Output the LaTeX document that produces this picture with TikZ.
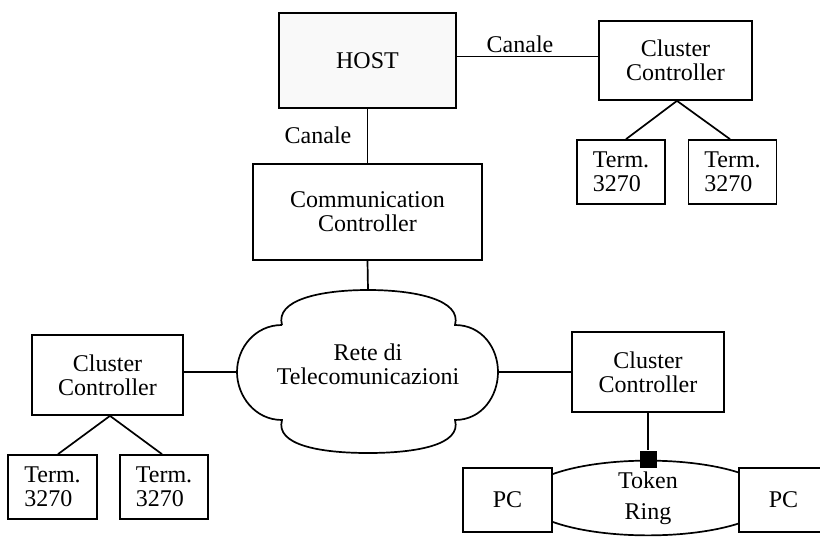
\documentclass[tikz,border=0pt]{standalone}
\usepackage{fontspec}
\setmainfont{Liberation Serif}
\usetikzlibrary{shapes.geometric,positioning,calc}

\begin{document}
\begin{tikzpicture}[x=1pt,y=-1pt,line width=1.7pt,
    font=\fontsize{24}{24}\selectfont,
    box/.style={draw,fill=white,inner sep=0pt,align=center},
    termbox/.style={draw,fill=white,inner sep=0pt,align=left,
        minimum width=88pt,minimum height=64pt}]
    \useasboundingbox (0,0) rectangle (820,536);
    \clip (0,0) rectangle (820,536);

    % Draw host and its channels
    \node[box,fill=gray!5,minimum width=177pt,minimum height=95pt] (host) at (367.5,60.5) {HOST};
    \node[box,minimum width=153pt,minimum height=79pt] (cctop) at (675.5,60.5) {Cluster\\Controller};
    \node[box,minimum width=229pt,minimum height=96pt] (comm) at (367.5,212) {Communication\\Controller};
    \draw ([yshift=4pt]host.east) -- ([yshift=4pt]cctop.west);
    \draw (host.south) -- (comm.north);
    \node (canA) at (520,44) {Canale};
    \node (canB) at (318,135) {Canale};

    % Draw terminals of top cluster
    \node[termbox] (tA) at (621,172) {Term.\\3270};
    \node[termbox] (tB) at (732.5,172) {Term.\\3270};
    \draw ([xshift=1.5pt]cctop.south) -- ([xshift=5pt]tA.north);
    \draw ([xshift=1.5pt]cctop.south) -- ([xshift=-2.5pt]tB.north);

    % Draw network cloud
    \draw (282,325) .. controls (275,300) and (320,290) .. (368,290)
        .. controls (416,290) and (462,300) .. (455,325)
        .. controls (482,325) and (498,348) .. (498,372)
        .. controls (498,396) and (482,420) .. (455,420)
        .. controls (462,445) and (416,453) .. (368,453)
        .. controls (320,453) and (275,445) .. (282,420)
        .. controls (255,420) and (237,396) .. (237,372)
        .. controls (237,348) and (255,325) .. (282,325);
    \coordinate (netN) at (368,290);
    \coordinate (netW) at (237,372);
    \coordinate (netE) at (498,372);
    \node[align=center] (net) at (368,364) {Rete di\\Telecomunicazioni};
    \draw (comm.south) -- (netN);

    % Draw left cluster
    \node[box,minimum width=151pt,minimum height=80pt] (ccleft) at (107.5,375) {Cluster\\Controller};
    \draw ([yshift=3pt]ccleft.east) -- (netW);
    \node[termbox,minimum width=89pt] (tC) at (52.5,487) {Term.\\3270};
    \node[termbox] (tD) at (164,487) {Term.\\3270};
    \draw ([xshift=2.5pt]ccleft.south) -- ([xshift=5.5pt]tC.north);
    \draw ([xshift=2.5pt]ccleft.south) -- ([xshift=-2pt]tD.north);

    % Draw right cluster and token ring
    \node[box,minimum width=152pt,minimum height=80pt] (ccright) at (648,372) {Cluster\\Controller};
    \draw (netE) -- (ccright.west);
    \node[draw,ellipse,inner sep=0pt,minimum width=248pt,minimum height=74pt,
        align=center,font=\fontsize{24}{31}\selectfont] (ring) at (648,498) {Token\\Ring};
    \node[fill=black,inner sep=0pt,minimum size=17pt] (tap) at (ring.north) {};
    \draw (ccright.south) -- (tap.north);
    \node[box,minimum width=89pt,minimum height=64pt] (pcA) at (507.5,500) {PC};
    \node[box,minimum width=89pt,minimum height=64pt] (pcB) at (783.5,500) {PC};
\end{tikzpicture}
\end{document}
